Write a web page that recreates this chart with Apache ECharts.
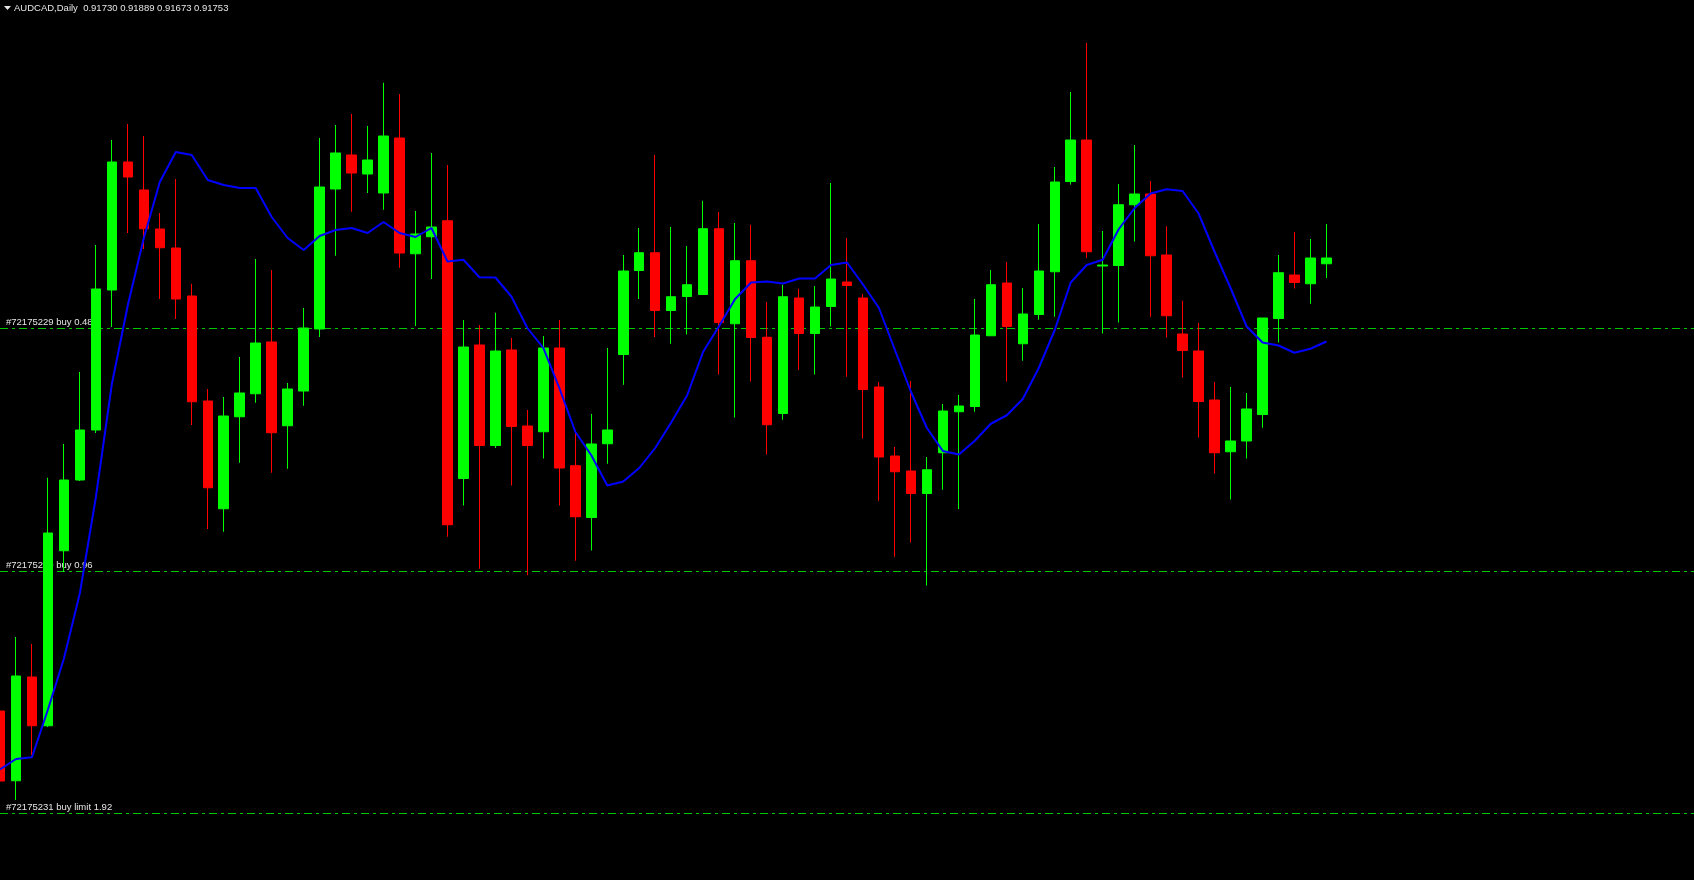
<!DOCTYPE html>
<html>
<head>
<meta charset="utf-8">
<title>AUDCAD,Daily</title>
<script src="https://cdn.jsdelivr.net/npm/echarts@6/dist/echarts.min.js"></script>
<style>
  html, body { margin: 0; padding: 0; background: #000; }
  #chart { width: 1694px; height: 880px; }
</style>
</head>
<body>
<div id="chart"></div>
<script>
/*
 * AUDCAD 日线图 (MT4 风格)
 */

var symbol = 'AUDCAD';
var period = 'Daily';

// [open, close, low, high]
var candles = [
  [0.89941, 0.89661, 0.89625, 0.89985],
  [0.89662, 0.90081, 0.89585, 0.90237],
  [0.90077, 0.89882, 0.89765, 0.90209],
  [0.89882, 0.90653, 0.89877, 0.90874],
  [0.90582, 0.90865, 0.90497, 0.91009],
  [0.90865, 0.91065, 0.90861, 0.91297],
  [0.91065, 0.91629, 0.91053, 0.91805],
  [0.91625, 0.92137, 0.91477, 0.92225],
  [0.92137, 0.92077, 0.91853, 0.92289],
  [0.92025, 0.91870, 0.91789, 0.92241],
  [0.91869, 0.91794, 0.91589, 0.91933],
  [0.91793, 0.91589, 0.91509, 0.92069],
  [0.91601, 0.91178, 0.91085, 0.91650],
  [0.91181, 0.90834, 0.90669, 0.91229],
  [0.90750, 0.91121, 0.90658, 0.91197],
  [0.91118, 0.91213, 0.90934, 0.91357],
  [0.91210, 0.91413, 0.91174, 0.91749],
  [0.91417, 0.91054, 0.90894, 0.91705],
  [0.91082, 0.91229, 0.90910, 0.91253],
  [0.91221, 0.91473, 0.91162, 0.91553],
  [0.91469, 0.92037, 0.91437, 0.92233],
  [0.92029, 0.92173, 0.91762, 0.92285],
  [0.92165, 0.92093, 0.91938, 0.92329],
  [0.92089, 0.92145, 0.92013, 0.92281],
  [0.92013, 0.92241, 0.91946, 0.92454],
  [0.92233, 0.91773, 0.91714, 0.92409],
  [0.91770, 0.91849, 0.91481, 0.91941],
  [0.91838, 0.91877, 0.91669, 0.92173],
  [0.91902, 0.90686, 0.90638, 0.92125],
  [0.90871, 0.91397, 0.90763, 0.91505],
  [0.91405, 0.91003, 0.90510, 0.91485],
  [0.91003, 0.91381, 0.90993, 0.91534],
  [0.91385, 0.91079, 0.90843, 0.91433],
  [0.91081, 0.91003, 0.90484, 0.91145],
  [0.91058, 0.91393, 0.90951, 0.91441],
  [0.91393, 0.90913, 0.90763, 0.91505],
  [0.90922, 0.90718, 0.90542, 0.91065],
  [0.90715, 0.91009, 0.90583, 0.91129],
  [0.91010, 0.91065, 0.90930, 0.91393],
  [0.91367, 0.91701, 0.91246, 0.91765],
  [0.91703, 0.91774, 0.91589, 0.91873],
  [0.91774, 0.91543, 0.91437, 0.92165],
  [0.91543, 0.91598, 0.91410, 0.91877],
  [0.91599, 0.91646, 0.91447, 0.91801],
  [0.91607, 0.91870, 0.91607, 0.91982],
  [0.91870, 0.91495, 0.91287, 0.91937],
  [0.91490, 0.91742, 0.91115, 0.91893],
  [0.91742, 0.91435, 0.91259, 0.91886],
  [0.91436, 0.91086, 0.90967, 0.91577],
  [0.91131, 0.91598, 0.91106, 0.91646],
  [0.91593, 0.91451, 0.91305, 0.91630],
  [0.91451, 0.91557, 0.91287, 0.91641],
  [0.91559, 0.91669, 0.91479, 0.92053],
  [0.91657, 0.91643, 0.91278, 0.91833],
  [0.91593, 0.91227, 0.91031, 0.91609],
  [0.91237, 0.90957, 0.90782, 0.91257],
  [0.90961, 0.90898, 0.90558, 0.90997],
  [0.90901, 0.90811, 0.90615, 0.91261],
  [0.90811, 0.90906, 0.90443, 0.90957],
  [0.90974, 0.91141, 0.90826, 0.91169],
  [0.91138, 0.91161, 0.90749, 0.91205],
  [0.91159, 0.91445, 0.91138, 0.91589],
  [0.91442, 0.91646, 0.91442, 0.91705],
  [0.91653, 0.91479, 0.91259, 0.91737],
  [0.91410, 0.91529, 0.91342, 0.91633],
  [0.91527, 0.91701, 0.91506, 0.91889],
  [0.91698, 0.92057, 0.91518, 0.92117],
  [0.92059, 0.92225, 0.92047, 0.92417],
  [0.92225, 0.91778, 0.91753, 0.92613],
  [0.91721, 0.91725, 0.91451, 0.91861],
  [0.91723, 0.91966, 0.91495, 0.92049],
  [0.91966, 0.92009, 0.91819, 0.92205],
  [0.92009, 0.91762, 0.91518, 0.92061],
  [0.91765, 0.91522, 0.91435, 0.91880],
  [0.91449, 0.91383, 0.91275, 0.91582],
  [0.91381, 0.91179, 0.91035, 0.91493],
  [0.91185, 0.90974, 0.90891, 0.91257],
  [0.90978, 0.91021, 0.90787, 0.91237],
  [0.91021, 0.91149, 0.90951, 0.91213],
  [0.91127, 0.91513, 0.91074, 0.91513],
  [0.91511, 0.91694, 0.91415, 0.91765],
  [0.91685, 0.91655, 0.91631, 0.91857],
  [0.91650, 0.91753, 0.91570, 0.91829],
  [0.91730, 0.91753, 0.91673, 0.91889]
];

// 均线 (蓝线)
var maValues = [
  0.89707, 0.89749, 0.89756, 0.89947, 0.90151, 0.90413, 0.90797, 0.91249, 0.91565, 0.91833,
  0.92057, 0.92177, 0.92165, 0.92065, 0.92045, 0.92033, 0.92033, 0.91917, 0.91833, 0.91785,
  0.91841, 0.91865, 0.91873, 0.91853, 0.91897, 0.91853, 0.91837, 0.91873, 0.91739, 0.91746,
  0.91676, 0.91675, 0.91599, 0.91473, 0.91393, 0.91233, 0.91058, 0.90964, 0.90843, 0.90859,
  0.90913, 0.90993, 0.91095, 0.91204, 0.91378, 0.91481, 0.91589, 0.91655, 0.91659, 0.91651,
  0.91671, 0.91671, 0.91725, 0.91735, 0.91647, 0.91553, 0.91385, 0.91218, 0.91073, 0.90981,
  0.90967, 0.91022, 0.91090, 0.91124, 0.91189, 0.91313, 0.91465, 0.91655, 0.91725, 0.91746,
  0.91868, 0.91953, 0.92011, 0.92028, 0.92021, 0.91931, 0.91778, 0.91633, 0.91480, 0.91415,
  0.91403, 0.91374, 0.91390, 0.91419
];

// 挂单线
var orderLevels = [0.91472, 0.90500, 0.89531];
var orderLabels = ['#72175229 buy 0.48', '#72175230 buy 0.96', '#72175231 buy limit 1.92'];

// 右侧留白的空K线数
var emptySlots = 23;

var days = [];
for (var i = 0; i < candles.length + emptySlots; i++) {
  days.push(String(i + 1));
}

var last = candles[candles.length - 1];
var titleText = symbol + ',' + period + '  ' +
  [last[0], last[3], last[2], last[1]].map(function(v) { return v.toFixed(5); }).join(' ');

var textFont = '"Liberation Sans", Arial, sans-serif';

function initECharts(el, options) {
  var myEchart = echarts.init(el, null, { renderer: 'canvas' });
  myEchart.setOption(options);
  return myEchart;
}

var options = {
  backgroundColor: '#000000',
  animation: false,
  title: {
    text: titleText,
    left: 14,
    top: 3,
    padding: 0,
    textStyle: { color: '#e6e6e6', fontSize: 9.5, fontWeight: 'normal', fontFamily: textFont }
  },
  graphic: [{
    type: 'polygon',
    shape: { points: [[4, 6], [11, 6], [7.5, 10]] },
    style: { fill: '#e6e6e6' }
  }],
  grid: { left: 0, top: 0, width: 1696, height: 880 },
  xAxis: {
    type: 'category',
    data: days,
    boundaryGap: false,
    show: false
  },
  yAxis: {
    type: 'value',
    min: 0.89265,
    max: 0.92785,
    show: false,
    splitLine: { show: false }
  },
  series: [
    {
      type: 'line',
      name: 'orders',
      data: [],
      z: 1,
      silent: true,
      markLine: {
        z: 1,
        silent: true,
        precision: 5,
        symbol: ['none', 'none'],
        animation: false,
        lineStyle: { color: '#00c800', width: 1, type: [8, 4, 3, 4] },
        label: {
          position: 'insideStartTop',
          distance: [6, 1],
          color: '#e6e6e6',
          fontSize: 9.5,
          fontFamily: textFont,
          formatter: function(p) { return orderLabels[p.dataIndex]; }
        },
        data: orderLevels.map(function(v) { return { yAxis: v }; })
      }
    },
    {
      type: 'candlestick',
      name: symbol,
      data: candles,
      barWidth: 10,
      z: 5,
      itemStyle: {
        color: '#00ff00',
        color0: '#ff0000',
        borderColor: '#00ff00',
        borderColor0: '#ff0000',
        borderWidth: 1
      }
    },
    {
      type: 'line',
      name: 'MA',
      data: maValues,
      z: 6,
      symbol: 'none',
      smooth: false,
      lineStyle: { color: '#0000ff', width: 2 }
    }
  ]
};

initECharts(document.getElementById('chart'), options);
</script>
</body>
</html>
